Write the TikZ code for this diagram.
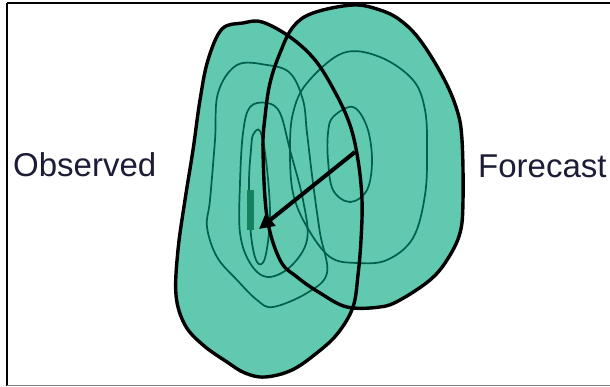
\documentclass[tikz,border=0pt]{standalone}
\usepackage{fontspec}
\setmainfont{Liberation Sans}
\usetikzlibrary{arrows.meta}
\definecolor{blobfill}{RGB}{96,201,176}
\definecolor{contourc}{RGB}{0,95,75}
\definecolor{corec}{RGB}{20,130,95}
\definecolor{labelc}{RGB}{28,28,55}
\begin{document}
\begin{tikzpicture}[x=1pt,y=-1pt,
  blob/.style={fill=blobfill},
  outline/.style={draw=black,line width=3.4pt,line join=round},
  contour/.style={draw=contourc,line width=1.7pt},
  label/.style={font=\fontsize{33}{38}\selectfont,text=labelc,inner sep=0pt,anchor=base west},
  vec/.style={draw=black,line width=4pt,-{Triangle[length=15pt,width=15pt]}}]
\useasboundingbox (0,0) rectangle (610,387);
\fill[white] (0,0) rectangle (610,387);
% frame
\draw[black,line width=2pt] (7,3) -- (610,3);
\draw[black,line width=2pt] (7,3) -- (7,386);
\draw[gray,line width=1.5pt] (7,385.5) -- (610,385.5);
% blob paths
\def\obspath{plot[smooth cycle,tension=0.6] coordinates{(222,29) (243,23) (262,22) (290,37) (315,60) (335,92) (350,125) (358,160) (362,200) (361,240) (358,275) (353,307) (338,333) (318,352) (292,370) (265,377) (245,373) (227,362) (203,345) (185,325) (176,295) (178,250) (185,200) (193,150) (200,100) (208,60)}}
\def\forpath{plot[smooth cycle,tension=0.6] coordinates{(293,27) (313,13) (353,5) (380,10) (400,20) (420,40) (443,77) (457,110) (462,140) (463,200) (460,233) (447,260) (430,280) (400,300) (380,307) (347,307) (320,293) (297,277) (280,260) (267,217) (263,150) (265,117) (270,83) (280,53)}}
\fill[blob] \obspath;
\fill[blob] \forpath;
% observed contours
\draw[contour] plot[smooth cycle,tension=0.6] coordinates{(218,93) (237,65) (267,65) (290,73) (303,100) (307,133) (313,183) (320,233) (327,273) (307,293) (273,307) (257,300) (237,280) (217,257) (207,227) (210,200) (215,140)};
\draw[contour] plot[smooth cycle,tension=0.6] coordinates{(243,133) (250,107) (267,103) (280,113) (290,150) (303,200) (307,240) (290,267) (267,277) (250,263) (240,233) (240,183)};
\draw[contour] plot[smooth cycle,tension=0.6] coordinates{(253,135) (260,131) (266,160) (270,215) (265,258) (257,262) (251,235) (249,183) (251,150)};
\fill[corec] (247,190) rectangle (254,230);
% forecast contours
\draw[contour] plot[smooth cycle,tension=0.6] coordinates{(307,83) (343,53) (380,57) (413,80) (425,110) (427,150) (425,195) (413,238) (387,260) (357,263) (330,257) (307,227) (293,193) (290,150) (293,113)};
\draw[contour] plot[smooth cycle,tension=0.6] coordinates{(333,117) (353,107) (367,127) (372,160) (367,190) (350,202) (333,190) (328,160) (328,133)};
% outlines
\draw[outline] \obspath;
\draw[outline] \forpath;
% displacement vector
\coordinate (fc) at (355,152);
\coordinate (oc) at (259,229);
\draw[vec] (fc) -- (oc);
% labels
\node[label] (obs) at (13,177) {Observed};
\node[label] (fcst) at (478,178) {Forecast};
\end{tikzpicture}
\end{document}
